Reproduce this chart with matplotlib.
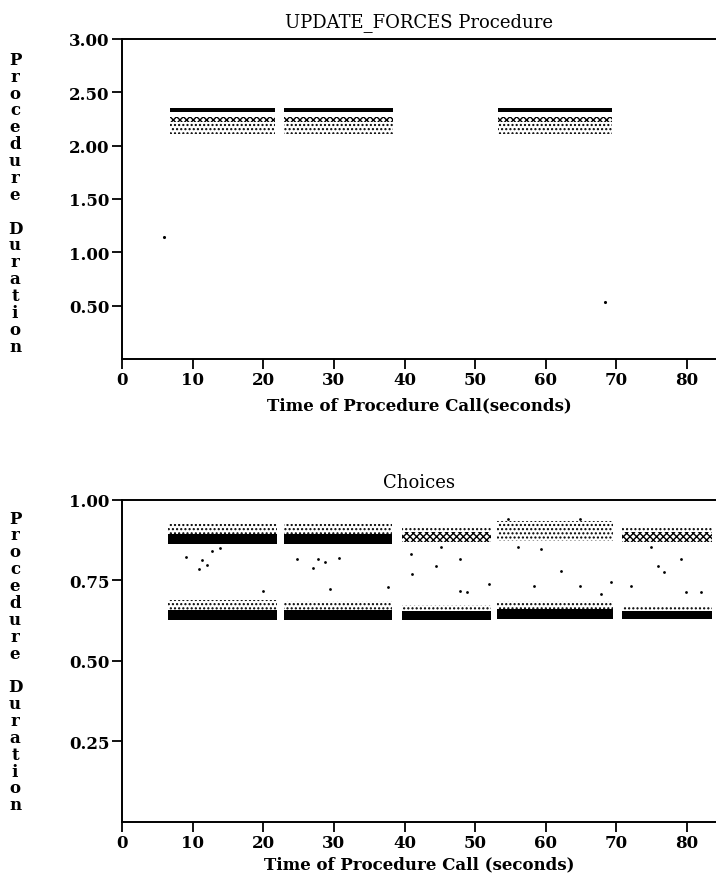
import matplotlib
matplotlib.use("Agg")
import matplotlib.pyplot as plt

# UPDATE_FORCES procedure: bursts of calls (seconds), duration bands
upd_start = [6.8, 22.9, 53.3]
upd_end = [21.7, 38.4, 69.4]
upd_core_low = [2.315, 2.315, 2.315]
upd_core_high = [2.350, 2.350, 2.350]
upd_mid_low = [2.225, 2.225, 2.225]
upd_mid_high = [2.270, 2.270, 2.270]
upd_spread_low = [2.110, 2.110, 2.110]
upd_spread_high = [2.225, 2.225, 2.225]
upd_outlier_x = [5.9, 68.4]
upd_outlier_y = [1.14, 0.53]

# Choices procedure
ch_start = [6.5, 22.9, 39.6, 53.1, 70.8]
ch_end = [21.9, 38.2, 52.3, 69.5, 83.6]
ch_upper_low = [0.862, 0.862, 0.870, 0.872, 0.870]
ch_upper_high = [0.895, 0.895, 0.900, 0.900, 0.900]
ch_upper_top = [0.925, 0.925, 0.915, 0.935, 0.915]
ch_upper_density = ["dense", "dense", "medium", "sparse", "medium"]
ch_lower_low = [0.626, 0.626, 0.626, 0.628, 0.628]
ch_lower_high = [0.658, 0.658, 0.655, 0.662, 0.655]
ch_lower_top = [0.690, 0.685, 0.672, 0.685, 0.668]
ch_stray_x = [9.1, 11.3, 10.9, 12.0, 12.7, 13.9, 27.1, 27.8, 28.7, 24.8, 30.7,
              37.6, 20.0, 29.4, 40.9, 45.1, 44.4, 47.9, 48.9, 41.1, 47.9, 51.9,
              56.0, 59.3, 62.1, 58.3, 64.9, 69.2, 67.8, 64.9, 54.6, 72.0, 75.9,
              76.7, 79.9, 82.0, 79.1, 74.9]
ch_stray_y = [0.822, 0.814, 0.785, 0.797, 0.842, 0.850, 0.788, 0.816, 0.807,
              0.816, 0.819, 0.729, 0.717, 0.723, 0.831, 0.853, 0.794, 0.816,
              0.713, 0.769, 0.717, 0.739, 0.853, 0.847, 0.778, 0.732, 0.732,
              0.744, 0.708, 0.940, 0.940, 0.732, 0.794, 0.776, 0.713, 0.713,
              0.816, 0.853]

upd_yticks = [0.5, 1.0, 1.5, 2.0, 2.5, 3.0]
ch_yticks = [0.25, 0.5, 0.75, 1.0]
xticks = [0, 10, 20, 30, 40, 50, 60, 70, 80]

FONT = "DejaVu Serif"
HATCH = {"dense": None, "medium": "xxxxx", "sparse": "...."}

plt.rcParams["hatch.linewidth"] = 1.0


def band(ax, x0, x1, lo, hi, kind):
    h = HATCH[kind]
    if h is None:
        ax.fill_between([x0, x1], lo, hi, color="black", linewidth=0)
    else:
        ax.fill_between([x0, x1], lo, hi, facecolor="none", edgecolor="black",
                        linewidth=0, hatch=h)


def style_axes(ax, ymax, yticks, title, xlabel, lpad):
    ax.set_xlim(0, 84.1)
    ax.set_ylim(0, ymax)
    ax.spines["right"].set_visible(False)
    for s in ("left", "top", "bottom"):
        ax.spines[s].set_linewidth(1.4)
    ax.set_xticks(xticks)
    ax.set_xticklabels([str(t) for t in xticks], fontfamily=FONT,
                       fontweight="bold", fontsize=12)
    ax.set_yticks(yticks)
    ax.set_yticklabels(["%.2f" % t for t in yticks], fontfamily=FONT,
                       fontweight="bold", fontsize=12)
    ax.tick_params(direction="out", length=7, width=1.3, pad=2)
    ax.set_title(title, fontfamily=FONT, fontsize=13, pad=9)
    ax.set_xlabel(xlabel, fontfamily=FONT, fontweight="bold", fontsize=12,
                  labelpad=lpad)


fig = plt.figure(figsize=(7.16, 8.78), dpi=100)
ax1 = fig.add_axes([0.1704, 0.590, 0.8296, 0.3645])
ax2 = fig.add_axes([0.1704, 0.063, 0.8296, 0.3667])

for i in range(len(upd_start)):
    x0, x1 = upd_start[i], upd_end[i]
    band(ax1, x0, x1, upd_spread_low[i], upd_spread_high[i], "sparse")
    band(ax1, x0, x1, upd_mid_low[i], upd_mid_high[i], "medium")
    band(ax1, x0, x1, upd_core_low[i], upd_core_high[i], "dense")
ax1.scatter(upd_outlier_x, upd_outlier_y, s=5, color="black", linewidths=0)

for i in range(len(ch_start)):
    x0, x1 = ch_start[i], ch_end[i]
    band(ax2, x0, x1, ch_upper_high[i], ch_upper_top[i], "sparse")
    band(ax2, x0, x1, ch_upper_low[i], ch_upper_high[i], ch_upper_density[i])
    band(ax2, x0, x1, ch_lower_high[i], ch_lower_top[i], "sparse")
    band(ax2, x0, x1, ch_lower_low[i], ch_lower_high[i], "dense")
ax2.scatter(ch_stray_x, ch_stray_y, s=4, color="black", linewidths=0)

style_axes(ax1, 3.0, upd_yticks, "UPDATE_FORCES Procedure",
           "Time of Procedure Call(seconds)", 6)
style_axes(ax2, 1.0, ch_yticks, "Choices",
           "Time of Procedure Call (seconds)", 3)

ylab = "\n".join("Procedure Duration")
for yc in (0.768, 0.2455):
    fig.text(0.021, yc, ylab, fontfamily=FONT, fontweight="bold", fontsize=12,
             ha="center", va="center", linespacing=0.99)

fig.savefig("out.png", dpi=100)
